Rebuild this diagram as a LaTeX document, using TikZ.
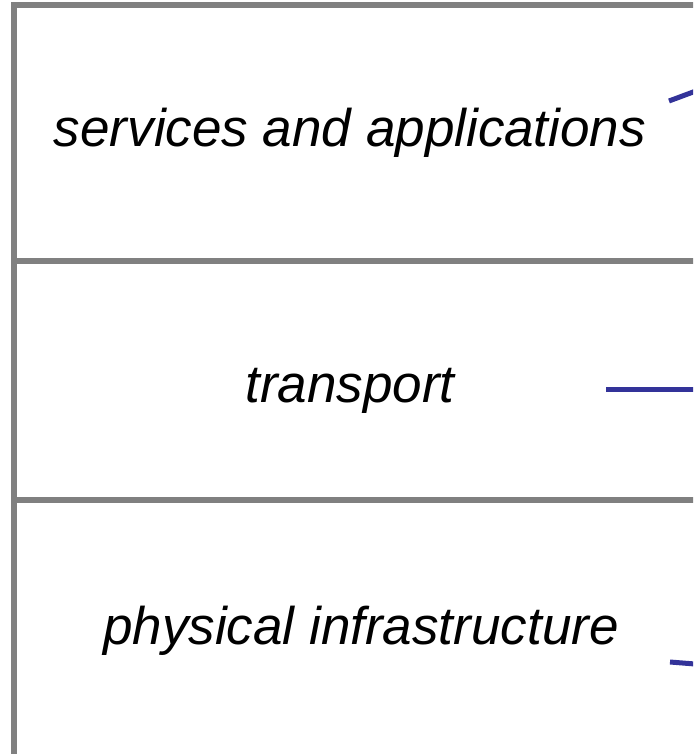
\documentclass[tikz,border=0pt]{standalone}
\usepackage{fontspec}
\setmainfont{Liberation Sans}
\definecolor{framegrey}{RGB}{128,128,128}
\definecolor{linkblue}{RGB}{51,51,153}
\begin{document}
\begin{tikzpicture}[x=1pt,y=-1pt,
  frame/.style={draw=framegrey,line width=6pt},
  layer/.style={font=\fontsize{53}{60}\selectfont\itshape,inner sep=0pt,anchor=base},
  link/.style={draw=linkblue,line width=5pt}]
\useasboundingbox (0,0) rectangle (693,754);
\begin{scope}
\clip (0,0) rectangle (693,754);
% layer stack, running off the right and bottom edges
\draw[frame] (14,800) -- (14,5) -- (760,5);
\draw[frame] (14,261) -- (760,261);
\draw[frame] (14,500) -- (760,500);
% layer labels
\node[layer] (apps) at (350,147) {services and applications};
\node[layer] (transport) at (350,402) {transport};
\node[layer] (phys) at (361,644) {physical infrastructure};
% connector stubs leaving towards the right
\coordinate (a1) at (669,101);
\coordinate (a2) at (720,82);
\coordinate (t1) at (606,389);
\coordinate (t2) at (720,389);
\coordinate (p1) at (670,662);
\coordinate (p2) at (720,666);
\draw[link] (a1) -- (a2);
\draw[link] (t1) -- (t2);
\draw[link] (p1) -- (p2);
\end{scope}
\end{tikzpicture}
\end{document}
